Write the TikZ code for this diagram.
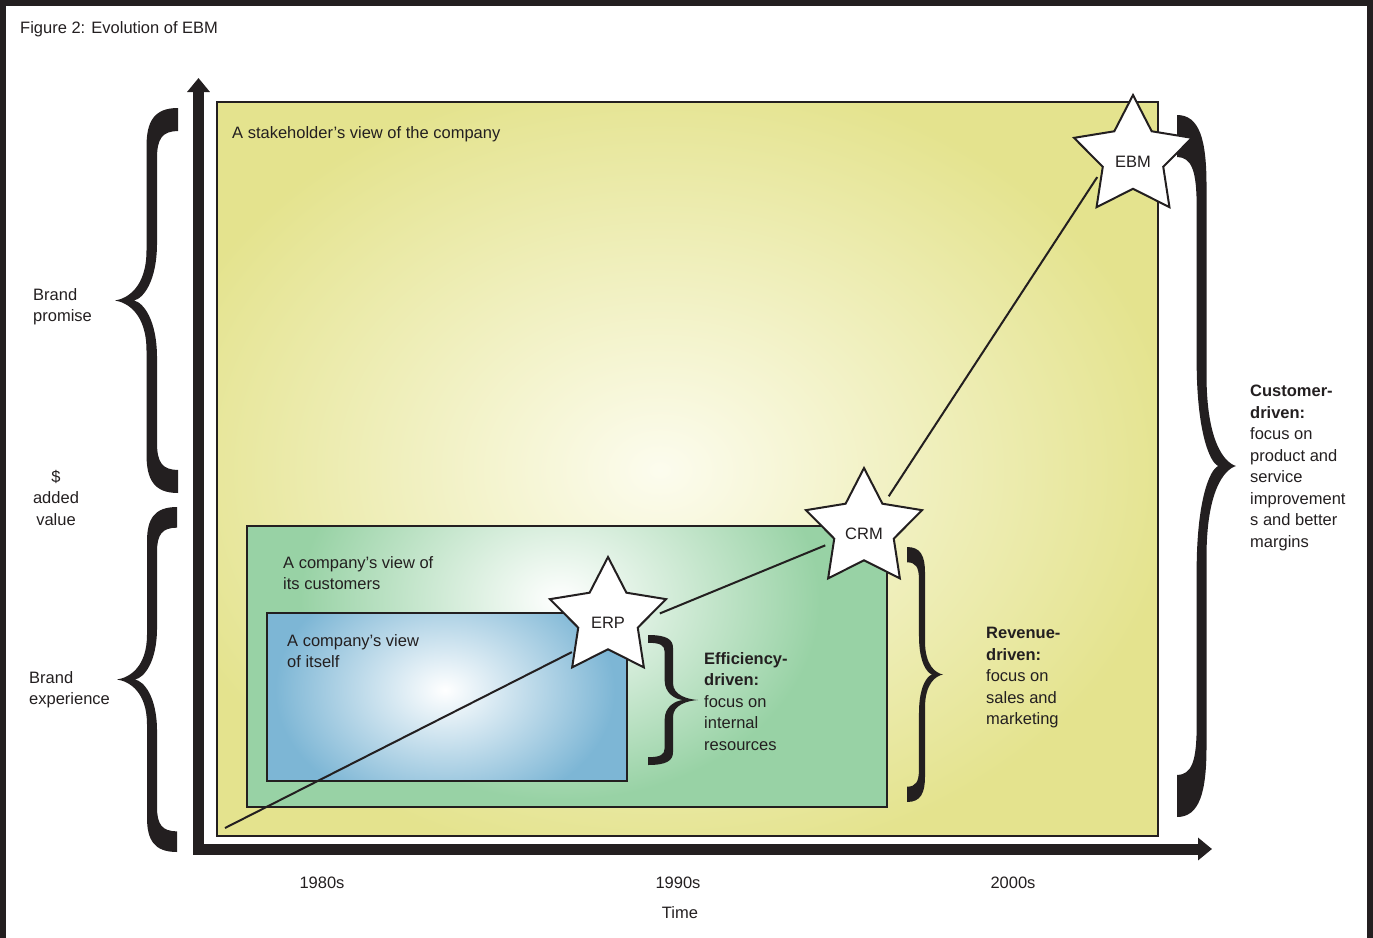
\documentclass[tikz,border=0pt]{standalone}
\usepackage{fontspec}
\setmainfont{Liberation Sans}
\usetikzlibrary{shapes.geometric,arrows.meta}

\definecolor{ink}{HTML}{231F20}
\definecolor{straw}{HTML}{E4E38E}
\definecolor{strawlight}{HTML}{FCFCEE}
\definecolor{mint}{HTML}{98D2A5}
\definecolor{sky}{HTML}{7DB6D5}

% star caption sits a little below the centre
\newcommand{\lowered}[1]{\raisebox{-5pt}[\height][\depth]{#1}}

% curly brace glyph, tip at the origin, ends at x=1, y from -1 to 1
\tikzset{
  curly/.pic={
    \fill[ink] (1,-1) .. controls (0.62,-1) and (0.5,-0.93) .. (0.5,-0.8)
      -- (0.5,-0.26) .. controls (0.5,-0.07) and (0.2,-0.01) .. (0,0)
      .. controls (0.2,0.01) and (0.5,0.07) .. (0.5,0.26)
      -- (0.5,0.8) .. controls (0.5,0.93) and (0.62,1) .. (1,1)
      -- (1,0.88) .. controls (0.75,0.88) and (0.667,0.84) .. (0.667,0.74)
      -- (0.667,0.3) .. controls (0.667,0.1) and (0.45,0.01) .. (0.3,0)
      .. controls (0.45,-0.01) and (0.667,-0.1) .. (0.667,-0.3)
      -- (0.667,-0.74) .. controls (0.667,-0.84) and (0.75,-0.88) .. (1,-0.88) -- cycle;
  }
}

\begin{document}
\begin{tikzpicture}[x=1pt,y=-1pt,
  every node/.style={text=ink,font=\fontsize{16.5}{21.5}\selectfont},
  blurb/.style={anchor=north west,align=left,inner sep=0pt},
  box/.style={draw=ink,line width=2pt},
  milestone/.style={star,star points=5,star point ratio=1.95,minimum size=122pt,
    inner sep=0pt,draw=ink,line width=2pt,fill=white},
  trend/.style={draw=ink,line width=2pt},
  axis/.style={draw=ink,line width=11pt,line join=miter,
    {Triangle[width=22pt,length=14pt]}-{Triangle[width=22pt,length=14pt]}}]
\useasboundingbox (0,0) rectangle (1373,937);

% page frame
\draw[ink,line width=6pt] (2.5,940) -- (2.5,2.5) -- (1370,2.5) -- (1370,940);
\node[anchor=north west,inner sep=0pt] (title) at (20,21) {Figure 2: Evolution of EBM};

% stakeholder view
\begin{scope}
  \clip (217,102) rectangle (1158,836);
  \fill[straw] (217,102) rectangle (1158,836);
  \shade[inner color=strawlight,outer color=straw] (660,470) ellipse (520 and 400);
\end{scope}
\draw[box] (217,102) rectangle (1158,836);

% customer view
\begin{scope}
  \clip (247,526) rectangle (887,807);
  \fill[mint] (247,526) rectangle (887,807);
  \shade[inner color=white,outer color=mint] (560,600) ellipse (260 and 200);
\end{scope}
\draw[box] (247,526) rectangle (887,807);

% company view of itself
\begin{scope}
  \clip (267,613) rectangle (627,781);
  \fill[sky] (267,613) rectangle (627,781);
  \shade[inner color=white,outer color=sky] (445,690) ellipse (170 and 125);
\end{scope}
\draw[box] (267,613) rectangle (627,781);

% braces
\pic[xscale=63,yscale=192.5] at (115,300.5) {curly};
\pic[xscale=60,yscale=172.5] at (117,679.5) {curly};
\pic[xscale=-50,yscale=65] at (698,700) {curly};
\pic[xscale=-36,yscale=127.5] at (943,674.5) {curly};
\pic[xscale=-59,yscale=351] at (1236,466) {curly};

% axes
\draw[axis] (198.5,78) |- (1212,849);

% labels
\node[blurb] (stake) at (232,126) {A stakeholder’s view of the company};
\node[blurb] (promise) at (33,288) {Brand\\promise};
\node[anchor=north,align=center,inner sep=0pt] (value) at (56,470) {\$\\added\\value};
\node[blurb] (experience) at (29,671) {Brand\\experience};
\node[blurb] (custview) at (283,556) {A company’s view of\\its customers};
\node[blurb] (selfview) at (287,634) {A company’s view\\of itself};
\node[blurb] (efficiency) at (704,652) {\textbf{Efficiency-}\\\textbf{driven:}\\focus on\\internal\\resources};
\node[blurb] (revenue) at (986,627) {\textbf{Revenue-}\\\textbf{driven:}\\focus on\\sales and\\marketing};
\node[blurb] (customer) at (1250,385) {\textbf{Customer-}\\\textbf{driven:}\\focus on\\product and\\service\\improvement\\s and better\\margins};
\node (d80) at (322,883) {1980s};
\node (d90) at (678,883) {1990s};
\node (d00) at (1013,883) {2000s};
\node (time) at (680,913) {Time};

% milestones
\node[milestone] (erp) at (608,618) {\lowered{ERP}};
\node[milestone] (crm) at (864,529) {\lowered{CRM}};
\node[milestone,minimum size=124pt] (ebm) at (1133,157) {\lowered{EBM}};

\coordinate (start) at (225,828);
\draw[trend,shorten >=2pt] (start) -- (erp.224);
\draw[trend,shorten <=12pt,shorten >=8pt] (erp.0) -- (crm.203);
\draw[trend,shorten <=8pt,shorten >=7pt] (crm.52) -- (ebm.204);
\end{tikzpicture}
\end{document}
